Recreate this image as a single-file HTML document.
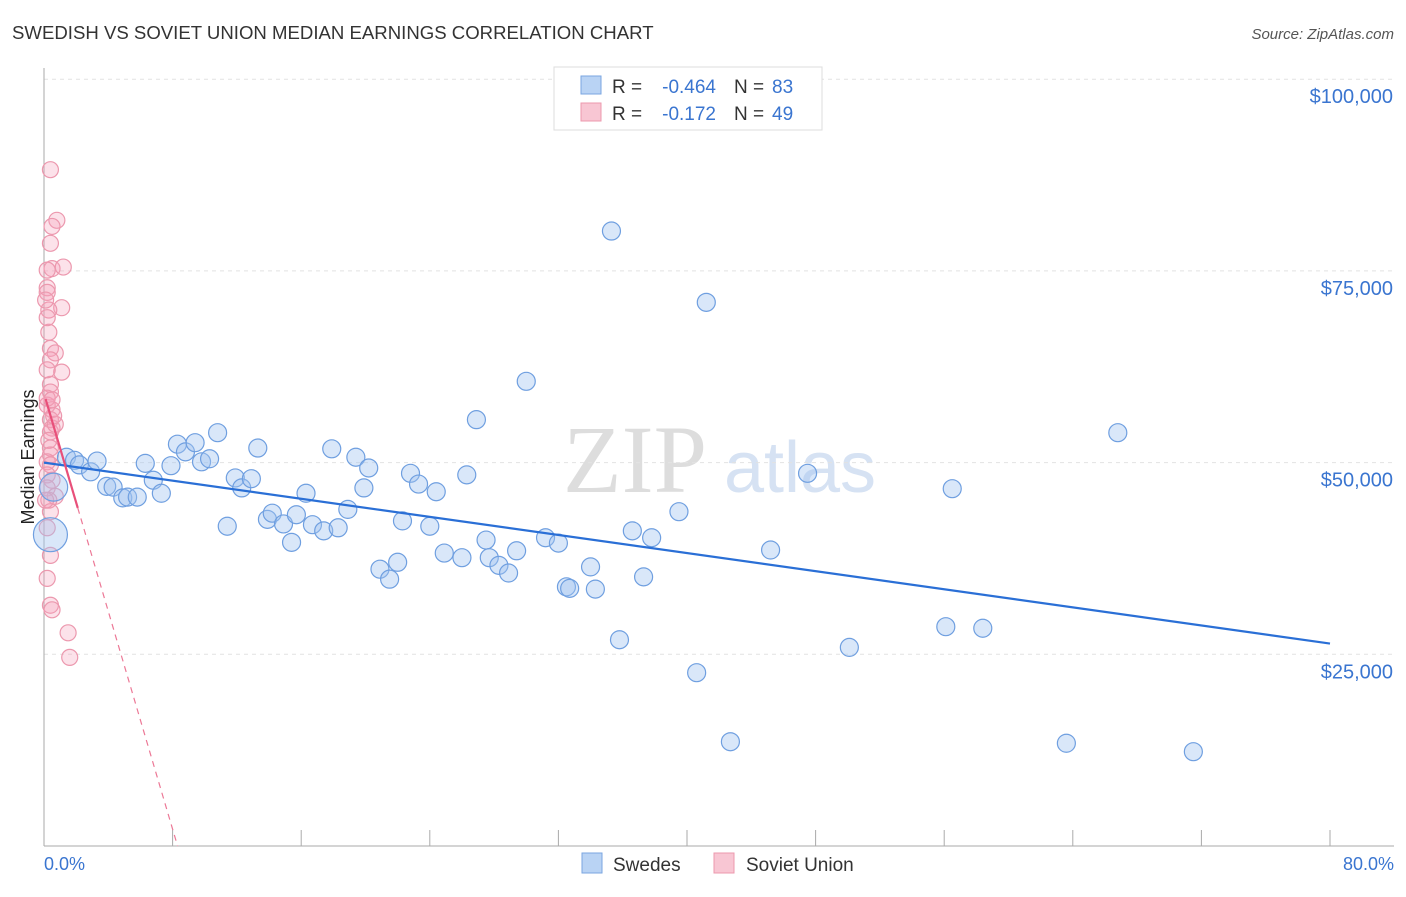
<!DOCTYPE html>
<html><head><meta charset="utf-8"><style>
body{margin:0;background:#fff;font-family:"Liberation Sans",sans-serif;}
</style></head><body>
<svg width="1406" height="892" xmlns="http://www.w3.org/2000/svg" id="chart">
<text x="12" y="39" font-size="18.6" fill="#333">SWEDISH VS SOVIET UNION MEDIAN EARNINGS CORRELATION CHART</text>
<text x="1394" y="39" font-size="15" fill="#555" font-style="italic" text-anchor="end">Source: ZipAtlas.com</text>
<text x="635" y="492" font-size="96" fill="#ddd" font-family="Liberation Serif" text-anchor="middle">ZIP</text>
<text x="800" y="492" font-size="72" fill="#d6e2f3" text-anchor="middle">atlas</text>
<g id="grid"></g><g id="axes"></g><g id="marks"></g>
<text transform="translate(34,457) rotate(-90)" font-size="18" fill="#222" text-anchor="middle">Median Earnings</text>
<text x="44" y="870" font-size="18" fill="#3a75d0">0.0%</text>
<text x="1394" y="870" font-size="18" fill="#3a75d0" text-anchor="end">80.0%</text>
<g>
<rect x="554" y="67" width="268" height="63" fill="#fff" stroke="#ddd"/>
<rect x="581" y="76" width="20" height="18" fill="#b9d3f4" stroke="#7aa6e0"/>
<rect x="581" y="103" width="20" height="18" fill="#f8c6d3" stroke="#ec98ae"/>
<text x="612" y="93" font-size="19" fill="#333">R =</text>
<text x="716" y="93" font-size="19" fill="#3a75d0" text-anchor="end">-0.464</text>
<text x="734" y="93" font-size="19" fill="#333">N =</text>
<text x="772" y="93" font-size="19" fill="#3a75d0">83</text>
<text x="612" y="120" font-size="19" fill="#333">R =</text>
<text x="716" y="120" font-size="19" fill="#3a75d0" text-anchor="end">-0.172</text>
<text x="734" y="120" font-size="19" fill="#333">N =</text>
<text x="772" y="120" font-size="19" fill="#3a75d0">49</text>
</g>
<g>
<rect x="582" y="853" width="20" height="20" fill="#b9d3f4" stroke="#7aa6e0"/>
<text x="613" y="871" font-size="19" fill="#333">Swedes</text>
<rect x="714" y="853" width="20" height="20" fill="#f8c6d3" stroke="#ec98ae"/>
<text x="746" y="871" font-size="19" fill="#333">Soviet Union</text>
</g>
</svg>
<script>
const yTicks=[25000,50000,75000,100000];
const yTickLabels=["$25,000","$50,000","$75,000","$100,000"];
const xTicks=[0,8,16,24,32,40,48,56,64,72,80];
const swedesX=[1.4,1.9,2.2,2.9,3.3,3.9,4.3,4.9,5.2,5.8,6.3,6.8,7.3,7.9,8.3,8.8,9.4,9.8,10.3,10.8,11.4,11.9,12.3,12.9,13.3,13.9,14.2,14.9,15.4,15.7,16.3,16.7,17.4,17.9,18.3,18.9,19.4,19.9,20.2,20.9,21.5,22.0,22.3,22.8,23.3,24.0,24.4,24.9,26.0,26.3,26.9,27.5,27.7,28.3,28.9,29.4,30.0,31.2,32.0,32.5,32.7,34.0,34.3,35.3,35.8,36.6,37.3,37.8,39.5,40.6,41.2,42.7,45.2,47.5,50.1,56.1,56.5,58.4,63.6,66.8,71.5,0.4,0.6];
const swedesY=[50700,50300,49700,48800,50200,46900,46800,45400,45500,45500,49900,47700,46000,49600,52400,51400,52600,50100,50500,53900,41700,48000,46700,47900,51900,42600,43400,42000,39600,43200,46000,41900,41100,51800,41500,43900,50700,46700,49300,36100,34800,37000,42400,48600,47200,41700,46200,38200,37600,48400,55600,39900,37600,36600,35600,38500,60600,40200,39500,33800,33600,36400,33500,80200,26900,41100,35100,40200,43600,22600,70900,13600,38600,48600,25900,28600,46600,28400,13400,53900,12300,40600,46800];
const swedesR=[];for(let i=0;i<swedesX.length;i++)swedesR.push(i>=81?(i==81?17:14):9);
const sovietX=[0.4,0.8,0.5,0.4,0.5,1.2,0.2,0.2,0.2,1.1,0.3,0.3,0.4,0.7,0.4,1.1,0.4,0.4,0.2,0.5,0.4,0.5,0.4,0.3,0.4,0.4,0.2,0.4,0.2,0.5,0.2,0.7,0.3,0.4,0.2,0.4,0.2,0.4,0.5,1.5,1.6,0.1,0.2,0.2,0.5,0.7,0.1,0.2,0.6];
const sovietY=[88200,81600,80800,78600,75300,75500,75100,72800,72200,70200,69900,67000,64900,64300,63400,61800,60200,59200,57500,56900,55600,54500,54000,52900,51900,51000,50100,49700,48400,47700,46700,45600,45100,43600,41500,37900,34900,31400,30800,27800,24600,71200,68900,58400,58200,55000,45100,62100,56100];
const swedesTrend=[50000,26400];
const sovietTrend=[59000,-7100];
const NS="http://www.w3.org/2000/svg";
const X0=44,X1=1330,YB=846,YPX=191.7/25000;
function sx(p){return X0+(p/80)*(X1-X0);}
function sy(v){return YB-v*YPX;}
function mk(t,a,p){const e=document.createElementNS(NS,t);for(const k in a)e.setAttribute(k,a[k]);p.appendChild(e);return e;}
const grid=document.getElementById('grid'),axes=document.getElementById('axes'),marks=document.getElementById('marks');
yTicks.forEach((v,i)=>{
 const l=mk('line',{x1:X0,x2:1394,y1:sy(v),y2:sy(v),stroke:'#e2e2e2','stroke-dasharray':'4,4'},grid);
 
 
 const t=mk('text',{x:1393,y:sy(v)+24,'font-size':20,fill:'#3a75d0','text-anchor':'end'},axes);
 t.textContent=yTickLabels[i];
 
 
});
const ya=mk('line',{x1:X0,x2:X0,y1:68,y2:846,stroke:'#aaa'},axes);


const xa=mk('line',{x1:X0,x2:1394,y1:846,y2:846,stroke:'#aaa'},axes);


xTicks.forEach(p=>{const l=mk('line',{x1:sx(p),x2:sx(p),y1:830,y2:846,stroke:'#aaa'},axes);
 
 });
sovietX.forEach((p,i)=>{const c=mk('circle',{cx:sx(p),cy:sy(sovietY[i]),r:8,fill:'rgba(244,160,185,0.3)',stroke:'#ec98ae','stroke-width':1.2},marks);
 
 });
swedesX.forEach((p,i)=>{const c=mk('circle',{cx:sx(p),cy:sy(swedesY[i]),r:swedesR[i],fill:'rgba(160,195,240,0.4)',stroke:'#6f9fe0','stroke-width':1.2},marks);
 
 });
const bt=mk('line',{x1:sx(0),y1:sy(swedesTrend[0]),x2:sx(80),y2:sy(swedesTrend[1]),stroke:'#2a6fd6','stroke-width':2.2},marks);


const pEnd=-sovietTrend[0]/sovietTrend[1];
const pd=mk('line',{x1:sx(2.1),y1:sy(sovietTrend[0]+sovietTrend[1]*2.1),x2:sx(pEnd),y2:sy(0),stroke:'#ec7896','stroke-width':1.2,'stroke-dasharray':'6,5'},marks);


const ps=mk('line',{x1:sx(0.1),y1:sy(sovietTrend[0]+sovietTrend[1]*0.1),x2:sx(2.1),y2:sy(sovietTrend[0]+sovietTrend[1]*2.1),stroke:'#e8507a','stroke-width':2.2},marks);


</script>
</body></html>
